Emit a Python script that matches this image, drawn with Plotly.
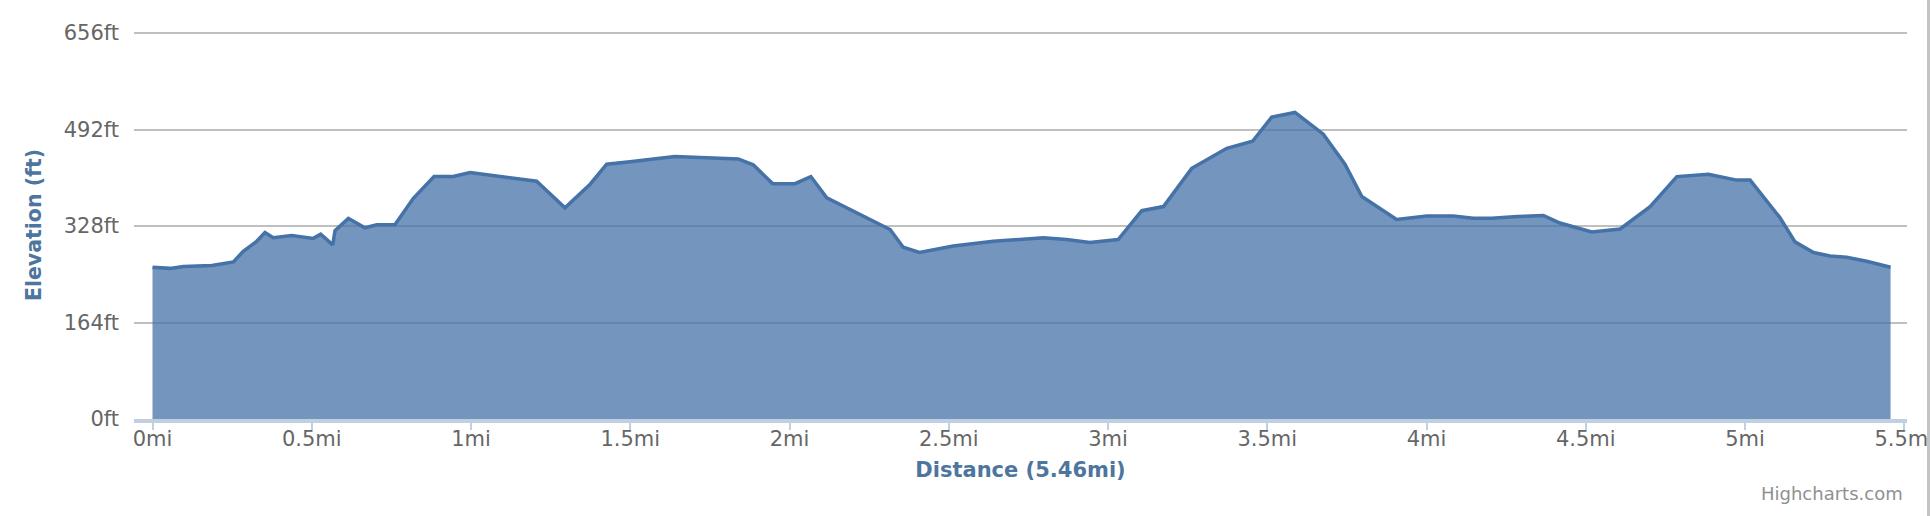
import plotly.graph_objects as go

# Distance along route (miles)
distance_mi = [
    0.000, 0.055, 0.097, 0.186, 0.254, 0.285, 0.325, 0.353, 0.379, 0.437,
    0.505, 0.528, 0.566, 0.573, 0.615, 0.667, 0.704, 0.761, 0.819, 0.884,
    0.944, 0.997, 1.206, 1.295, 1.374, 1.426, 1.499, 1.640, 1.839, 1.886,
    1.947, 2.017, 2.067, 2.117, 2.316, 2.357, 2.408, 2.514, 2.640, 2.797,
    2.870, 2.943, 3.032, 3.106, 3.174, 3.263, 3.373, 3.454, 3.514, 3.587,
    3.676, 3.744, 3.797, 3.906, 4.001, 4.084, 4.147, 4.205, 4.285, 4.367,
    4.419, 4.519, 4.608, 4.702, 4.786, 4.885, 4.974, 5.016, 5.110, 5.157,
    5.215, 5.267, 5.319, 5.382, 5.457,
]

# Elevation (feet)
elevation_ft = [
    258, 256, 259, 261, 267, 285, 301, 317, 308, 312,
    307, 314, 296, 320, 341, 325, 330, 330, 375, 412,
    412, 419, 404, 359, 399, 433, 437, 446, 442, 432,
    400, 400, 412, 376, 322, 292, 283, 294, 302, 308,
    305, 300, 305, 354, 361, 426, 460, 472, 513, 521,
    484, 433, 378, 339, 345, 345, 341, 341, 344, 346,
    333, 318, 323, 361, 412, 416, 406, 406, 342, 301,
    283, 277, 275, 268, 258,
]

x_tick_vals = [0, 0.5, 1, 1.5, 2, 2.5, 3, 3.5, 4, 4.5, 5, 5.5]
x_tick_text = ["0mi", "0.5mi", "1mi", "1.5mi", "2mi", "2.5mi", "3mi",
               "3.5mi", "4mi", "4.5mi", "5mi", "5.5mi"]
y_tick_vals = [0, 164, 328, 492, 656]
y_tick_text = ["0ft", "164ft", "328ft", "492ft", "656ft"]

FONT = "DejaVu Sans"
W, H = 1930, 516
L, R, T, B = 134, 23, 31, 97
plot_w = W - L - R
plot_h = H - T - B
# y range extended slightly above 656 so the top gridline is drawn inside
Y_MAX = 656 + 2 * 656 / 386.0

fig = go.Figure()
fig.add_trace(go.Scatter(
    x=distance_mi, y=elevation_ft,
    mode="lines",
    line=dict(color="#4572A7", width=3.5),
    fill="tozeroy",
    fillcolor="rgba(69,114,167,0.75)",
    hoverinfo="x+y",
    showlegend=False,
))

fig.update_layout(
    width=W, height=H,
    margin=dict(l=L, r=R, t=T, b=B, pad=0),
    paper_bgcolor="white",
    plot_bgcolor="white",
    font=dict(family=FONT, size=21, color="#666666"),
    xaxis=dict(
        range=[-0.0581, 5.5086],
        tickvals=x_tick_vals,
        ticktext=x_tick_text,
        showgrid=False,
        zeroline=False,
        showline=True,
        linecolor="#C0D0E0",
        linewidth=4,
        ticks="outside",
        ticklen=7,
        tickwidth=2,
        tickcolor="#C0D0E0",
        ticklabelstandoff=-9,
        ticklabeloverflow="allow",
        tickfont=dict(family=FONT, size=21, color="#666666"),
        title=dict(text="<b>Distance (5.46mi)</b>",
                   font=dict(family=FONT, size=21, color="#4d759e"),
                   standoff=13),
        automargin=False,
    ),
    yaxis=dict(
        range=[0, Y_MAX],
        tickvals=y_tick_vals,
        ticktext=y_tick_text,
        showgrid=True,
        gridcolor="#C0C0C0",
        gridwidth=2,
        zeroline=False,
        showline=False,
        ticks="",
        ticklabelstandoff=14,
        tickfont=dict(family=FONT, size=21, color="#666666"),
        title=dict(text="<b>Elevation (ft)</b>",
                   font=dict(family=FONT, size=20.5, color="#4d759e"),
                   standoff=16),
        automargin=False,
    ),
    annotations=[dict(
        text="Highcharts.com",
        xref="paper", yref="paper",
        x=(1905 - L) / plot_w, y=(H - B - 493) / plot_h,
        xanchor="right", yanchor="middle",
        showarrow=False,
        font=dict(family=FONT, size=18, color="#909090"),
    )],
    shapes=[dict(
        type="line", xref="paper", yref="paper",
        x0=(1928.5 - L) / plot_w, x1=(1928.5 - L) / plot_w,
        y0=-(B) / plot_h, y1=(plot_h + T) / plot_h,
        line=dict(color="#C4C4C4", width=3),
    )],
)

fig.write_html(
    "out.html",
    config={"displayModeBar": False},
    post_script="document.body.style.margin='0';document.body.style.overflow='hidden';",
)
